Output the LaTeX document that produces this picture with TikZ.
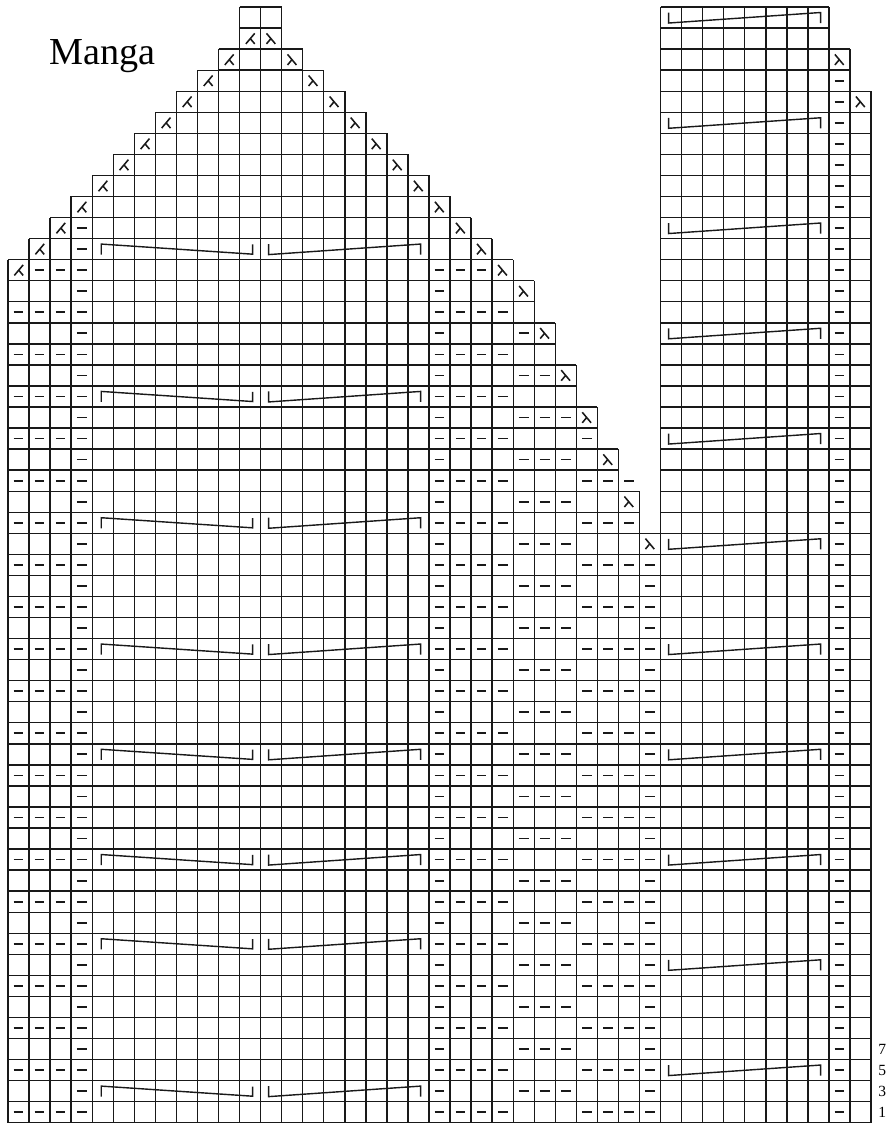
\documentclass[tikz,border=0pt]{standalone}
\usepackage{fontspec}
\setmainfont{Liberation Serif}
\usetikzlibrary{positioning}
\definecolor{ink}{RGB}{25, 25, 25}
\tikzset{
  chartline/.style={draw=ink, line width=0.95pt, step=1},
  purlmark/.style={draw=ink, line width=1.15pt},
  decmark/.style={draw=ink, line width=1.05pt},
  cablemark/.style={draw=ink, line width=0.95pt, line join=miter},
}
% symbols of the chart, one cell = one unit
\newcommand{\purlat}[2]{\draw[purlmark] (#1+0.27,#2+0.5) -- (#1+0.73,#2+0.5);}
\newcommand{\decright}[2]{\draw[decmark] (#1+0.28,#2+0.75) -- (#1+0.7,#2+0.25) (#1+0.49,#2+0.5) -- (#1+0.28,#2+0.25);}
\newcommand{\decleft}[2]{\draw[decmark] (#1+0.72,#2+0.75) -- (#1+0.3,#2+0.25) (#1+0.51,#2+0.5) -- (#1+0.72,#2+0.25);}
\newcommand{\cableleft}[2]{\draw[cablemark] (#1+0.43,#2+0.24) -- (#1+0.43,#2+0.74) -- (#1+7.62,#2+0.26) -- (#1+7.62,#2+0.72);}
\newcommand{\cableright}[2]{\draw[cablemark] (#1+0.38,#2+0.74) -- (#1+0.38,#2+0.24) -- (#1+7.6,#2+0.74) -- (#1+7.6,#2+0.24);}

\begin{document}
\begin{tikzpicture}[x=0.5cm, y=0.5cm]
  \useasboundingbox (-0.38,-0.06) rectangle (41.755,53.335);

  % Manga: grid of the sleeve
  \draw[chartline] (0,0) grid (31,28);
  \foreach \r/\a/\b in {28/0/29, 29/0/29, 30/0/28, 31/0/28, 32/0/27, 33/0/27,
                        34/0/26, 35/0/26, 36/0/25, 37/0/25, 38/0/24, 39/0/24,
                        40/0/23, 41/1/22, 42/2/21, 43/3/20, 44/4/19, 45/5/18,
                        46/6/17, 47/7/16, 48/8/15, 49/9/14, 50/10/13, 51/11/12,
                        52/11/12}
    \draw[chartline] (\a,\r) grid (\b+1,\r+1);

  % grid of the right panel
  \draw[chartline] (31,0) grid (41,49);
  \draw[chartline] (31,49) grid (40,51);
  \draw[chartline] (31,51) grid (39,53);

  % decreases along the top
  \foreach \r/\a/\b in {40/0/23, 41/1/22, 42/2/21, 43/3/20, 44/4/19, 45/5/18,
                        46/6/17, 47/7/16, 48/8/15, 49/9/14, 50/10/13, 51/11/12}
    {\decleft{\a}{\r}\decright{\b}{\r}}
  \foreach \c/\r in {24/39, 25/37, 26/35, 27/33, 28/31, 29/29, 30/27, 39/50, 40/48}
    {\decright{\c}{\r}}

  % purl stitches
  \foreach \c in {0,1,2,21,22,23}
    \foreach \r in {0,2,...,38} {\purlat{\c}{\r}}
  \foreach \c in {1,2,21,22} {\purlat{\c}{40}}
  \foreach \r in {0,...,42} {\purlat{3}{\r}}
  \foreach \r in {0,...,40} {\purlat{20}{\r}}
  \foreach \c/\t in {24/37, 25/35, 26/33}
    \foreach \r in {1,3,...,\t} {\purlat{\c}{\r}}
  \foreach \c/\t in {27/32, 28/30, 29/30}
    \foreach \r in {0,2,...,\t} {\purlat{\c}{\r}}
  \foreach \r in {0,...,26} {\purlat{30}{\r}}
  \foreach \r in {0,...,49} {\purlat{39}{\r}}

  % cables
  \foreach \r in {1,8,12,17,22,28,34,41}
    {\cableleft{4}{\r}\cableright{12}{\r}}
  \foreach \r in {2,7,...,52} {\cableright{31}{\r}}

  % title and row numbers
  \node[anchor=base west, inner sep=0, font=\fontsize{25.8}{30}\selectfont] (title) at (1.95,50.25) {Manga};
  \foreach \r/\n in {0/1, 1/3, 2/5, 3/7}
    \node[anchor=west, inner sep=0, font=\fontsize{10.5}{12}\selectfont] (rownum\n) at (41.33,\r+0.5) {\n};
\end{tikzpicture}
\end{document}
